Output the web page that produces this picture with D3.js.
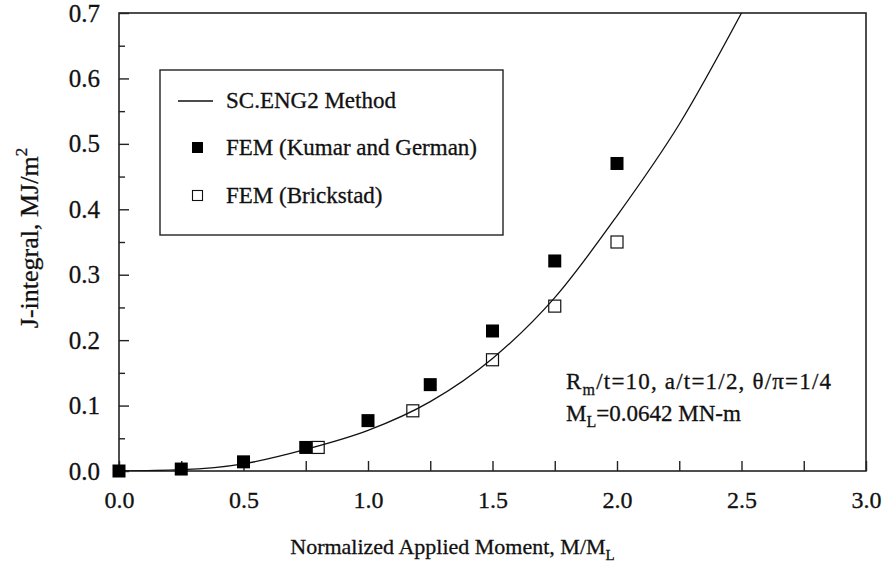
<!DOCTYPE html>
<html>
<head>
<meta charset="utf-8">
<script src="https://cdn.jsdelivr.net/npm/d3@7/dist/d3.min.js"></script>
<style>
  html, body { margin: 0; padding: 0; background: #fff; }
  svg text { font-family: "Liberation Serif", "Times New Roman", serif; fill: #111; stroke: #111; stroke-width: 0.3px; }
</style>
</head>
<body>
<svg id="chart" width="883" height="565"></svg>
<script>
// ---- data ----
const kumarM = [0, 0.25, 0.5, 0.75, 1.0, 1.25, 1.5, 1.75, 2.0];
const kumarJ = [0, 0.003, 0.014, 0.036, 0.077, 0.132, 0.214, 0.321, 0.47];
const brickM = [0.8, 1.18, 1.5, 1.75, 2.0];
const brickJ = [0.036, 0.092, 0.170, 0.252, 0.350];
const curveM = [0, 0.25, 0.5, 0.75, 1.0, 1.25, 1.5, 1.75, 2.0, 2.25, 2.5];
const curveJ = [0, 0.002, 0.011, 0.033, 0.062, 0.106, 0.172, 0.265, 0.39, 0.53, 0.70];
const xTickValues = [0, 0.5, 1.0, 1.5, 2.0, 2.5, 3.0];
const xMinorTicks = [0.25, 0.75, 1.25, 1.75, 2.25, 2.75];
const yTickValues = [0, 0.1, 0.2, 0.3, 0.4, 0.5, 0.6, 0.7];
const yMinorTicks = [0.05, 0.15, 0.25, 0.35, 0.45, 0.55, 0.65];
const legendLabels = ["SC.ENG2 Method", "FEM (Kumar and German)", "FEM (Brickstad)"];

// ---- layout ----
const pL = 119, pR = 866, pT = 13, pB = 471;
const svg = d3.select("#chart");
const x = d3.scaleLinear().domain([0, 3]).range([pL, pR]);
const y = d3.scaleLinear().domain([0, 0.7]).range([pB, pT]);
const FS = 23, TFS = 24;

svg.append("defs").append("clipPath").attr("id", "plotclip")
  .append("rect").attr("x", pL).attr("y", pT).attr("width", pR - pL).attr("height", pB - pT);

// frame
svg.append("rect").attr("x", pL).attr("y", pT).attr("width", pR - pL).attr("height", pB - pT)
  .attr("fill", "none").attr("stroke", "#222").attr("stroke-width", 1.6);

// x axis (ticks inside, pointing up)
const xAxis = d3.axisBottom(x).tickValues(xTickValues).tickFormat(d3.format(".1f")).tickSizeInner(-10).tickSizeOuter(0).tickPadding(20);
const gx = svg.append("g").attr("transform", `translate(0,${pB})`).call(xAxis);
gx.select(".domain").remove();
gx.selectAll(".tick line").attr("stroke", "#222").attr("stroke-width", 1.4);
gx.selectAll(".tick text").attr("font-size", TFS).attr("font-family", "Liberation Serif").attr("fill", "#111");
const xMinor = d3.axisBottom(x).tickValues(xMinorTicks).tickFormat("").tickSizeInner(-10).tickSizeOuter(0);
const gxm = svg.append("g").attr("transform", `translate(0,${pB})`).call(xMinor);
gxm.select(".domain").remove();
gxm.selectAll(".tick line").attr("stroke", "#222").attr("stroke-width", 1.4);

// y axis (ticks inside, pointing right)
const yAxis = d3.axisLeft(y).tickValues(yTickValues).tickFormat(d3.format(".1f")).tickSizeInner(-10).tickSizeOuter(0).tickPadding(19);
const gy = svg.append("g").attr("transform", `translate(${pL},0)`).call(yAxis);
gy.select(".domain").remove();
gy.selectAll(".tick line").attr("stroke", "#222").attr("stroke-width", 1.4);
gy.selectAll(".tick text").attr("font-size", 25).attr("font-family", "Liberation Serif").attr("fill", "#111");
const yMinor = d3.axisLeft(y).tickValues(yMinorTicks).tickFormat("").tickSizeInner(-6).tickSizeOuter(0);
const gym = svg.append("g").attr("transform", `translate(${pL},0)`).call(yMinor);
gym.select(".domain").remove();
gym.selectAll(".tick line").attr("stroke", "#222").attr("stroke-width", 1.4);

// axis titles
const xt = svg.append("text").attr("x", (pL + pR) / 2 - 40).attr("y", 554)
  .attr("text-anchor", "middle").attr("font-size", 22);
xt.append("tspan").text("Normalized Applied Moment, M/M");
xt.append("tspan").attr("font-size", 15).attr("dy", 6).text("L");

const yt = svg.append("text").attr("transform", `translate(38,${(pT + pB) / 2 - 4}) rotate(-90)`)
  .attr("text-anchor", "middle").attr("font-size", 26);
yt.append("tspan").text("J-integral, MJ/m");
yt.append("tspan").attr("font-size", 17).attr("dy", -11).text("2");

// curve
const curveData = curveM.map((m, i) => [m, curveJ[i]]);
svg.append("path").datum(curveData)
  .attr("clip-path", "url(#plotclip)")
  .attr("fill", "none").attr("stroke", "#111").attr("stroke-width", 1.3)
  .attr("d", d3.line().x(d => x(d[0])).y(d => y(d[1])).curve(d3.curveMonotoneX));

// markers
const S = 13;
svg.append("g").selectAll("rect").data(kumarM.map((m, i) => [m, kumarJ[i]])).join("rect")
  .attr("x", d => x(d[0]) - S / 2).attr("y", d => y(d[1]) - S / 2)
  .attr("width", S).attr("height", S).attr("fill", "#000");
svg.append("g").selectAll("rect").data(brickM.map((m, i) => [m, brickJ[i]])).join("rect")
  .attr("x", d => x(d[0]) - S / 2 + 0.5).attr("y", d => y(d[1]) - S / 2 + 0.5)
  .attr("width", S - 1).attr("height", S - 1).attr("fill", "none").attr("stroke", "#111").attr("stroke-width", 1.2);

// legend
const lg = svg.append("g");
lg.append("rect").attr("x", 160).attr("y", 70).attr("width", 343).attr("height", 165)
  .attr("fill", "#fff").attr("stroke", "#222").attr("stroke-width", 1.4);
const rowsY = [101, 148, 196];
lg.append("line").attr("x1", 178).attr("x2", 213).attr("y1", rowsY[0]).attr("y2", rowsY[0])
  .attr("stroke", "#111").attr("stroke-width", 1.3);
lg.append("rect").attr("x", 192).attr("y", rowsY[1] - 6).attr("width", 11).attr("height", 11).attr("fill", "#000");
lg.append("rect").attr("x", 192.5).attr("y", rowsY[2] - 5.5).attr("width", 10).attr("height", 10)
  .attr("fill", "none").attr("stroke", "#111").attr("stroke-width", 1.1);
lg.selectAll("text.lbl").data(legendLabels).join("text").attr("class", "lbl")
  .attr("x", 226).attr("y", (d, i) => rowsY[i] + 7).attr("font-size", FS).text(d => d);

// annotation
const a1 = svg.append("text").attr("x", 566).attr("y", 389).attr("font-size", 23).attr("letter-spacing", 1.2);
a1.append("tspan").text("R");
a1.append("tspan").attr("font-size", 16).attr("dy", 6).text("m");
a1.append("tspan").attr("dy", -6).text("/t=10, a/t=1/2, θ/π=1/4");
const a2 = svg.append("text").attr("x", 566).attr("y", 421).attr("font-size", 23);
a2.append("tspan").text("M");
a2.append("tspan").attr("font-size", 16).attr("dy", 6).text("L");
a2.append("tspan").attr("dy", -6).text("=0.0642 MN-m");
</script>
</body>
</html>
